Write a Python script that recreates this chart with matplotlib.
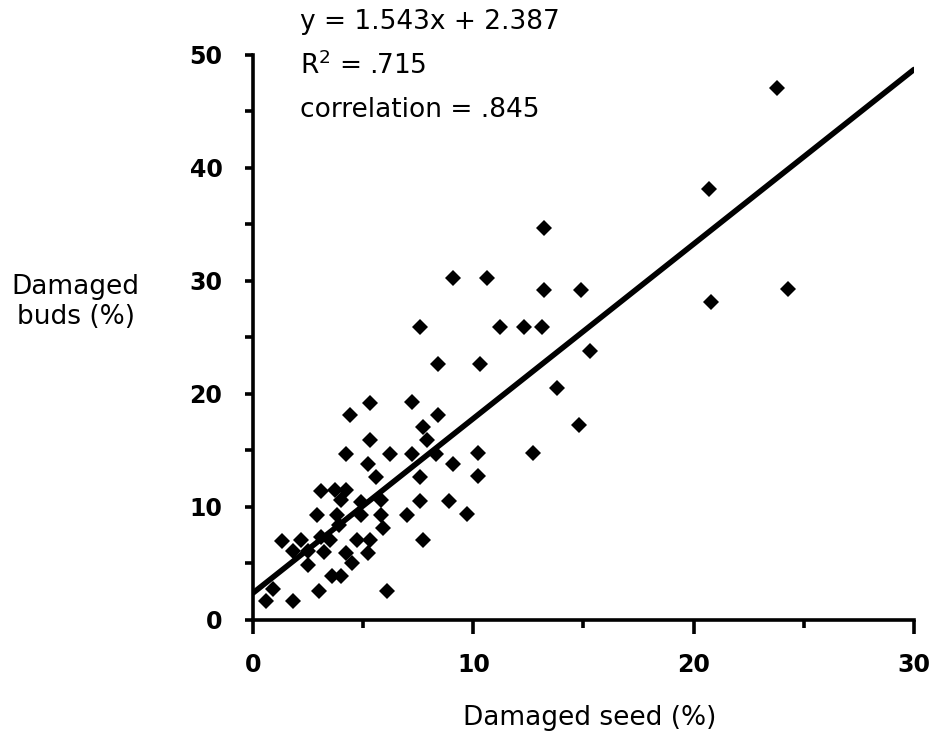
import numpy as np
import matplotlib
matplotlib.use("Agg")
import matplotlib.pyplot as plt

# damaged seed (%) vs damaged buds (%)
seed = [23.8, 20.7, 20.8, 24.3, 13.2, 13.2, 14.9, 9.1, 10.6, 7.6,
        11.2, 12.3, 13.1, 8.4, 10.3, 15.3, 13.8, 14.8, 12.7, 7.2,
        5.3, 4.4, 8.4, 7.7, 5.3, 7.9, 4.2, 6.2, 7.2, 8.3,
        10.2, 5.2, 9.1, 5.6, 7.6, 10.2, 3.1, 3.7, 4.2, 4.0,
        4.9, 5.8, 7.6, 8.9, 2.9, 3.8, 4.9, 5.8, 7.0, 9.7,
        5.9, 1.3, 2.2, 3.1, 3.5, 4.7, 5.3, 7.7, 1.8, 2.5,
        3.2, 4.2, 5.2, 2.5, 4.5, 3.6, 4.0, 0.9, 3.0, 6.1,
        0.6, 1.8, 3.9]
buds = [47.0, 38.1, 28.1, 29.3, 34.7, 29.2, 29.2, 30.2, 30.2, 25.9,
        25.9, 25.9, 25.9, 22.6, 22.6, 23.8, 20.5, 17.2, 14.8, 19.3,
        19.2, 18.1, 18.1, 17.1, 15.9, 15.9, 14.7, 14.7, 14.7, 14.7,
        14.8, 13.8, 13.8, 12.6, 12.6, 12.7, 11.4, 11.5, 11.5, 10.6,
        10.4, 10.6, 10.5, 10.5, 9.3, 9.3, 9.3, 9.3, 9.3, 9.4,
        8.1, 7.0, 7.1, 7.3, 7.1, 7.1, 7.1, 7.1, 6.1, 6.1,
        6.0, 5.9, 5.9, 4.9, 5.0, 3.9, 3.9, 2.7, 2.6, 2.6,
        1.7, 1.7, 8.4]

slope = 1.543
intercept = 2.387
fit_text = ["y = 1.543x + 2.387", "R$^2$ = .715", "correlation = .845"]

x_ticks = [0, 10, 20, 30]
y_ticks = [0, 10, 20, 30, 40, 50]

fig = plt.figure(figsize=(9.35, 7.41), dpi=100)
ax = fig.add_axes([0.2706, 0.1633, 0.7069, 0.7631])

ax.plot(seed, buds, linestyle="none", marker="D", markersize=8,
        color="black", markeredgewidth=0)

fx = np.array([0, 30])
ax.plot(fx, slope * fx + intercept, color="black", linewidth=4,
        solid_capstyle="round")

ax.set_xlim(0, 30)
ax.set_ylim(0, 50)
ax.spines["top"].set_visible(False)
ax.spines["right"].set_visible(False)
for s in ["left", "bottom"]:
    ax.spines[s].set_linewidth(2.6)

ax.set_xticks(x_ticks)
ax.set_xticks([5, 15, 25], minor=True)
ax.set_yticks(y_ticks)
ax.set_yticks([5, 15, 25, 35, 45], minor=True)
ax.tick_params(axis="x", which="major", length=10, width=2.6, pad=14)
ax.tick_params(axis="x", which="minor", length=6, width=2.6)
ax.tick_params(axis="y", which="both", length=6, width=2.6, pad=16)
for lab in ax.get_xticklabels() + ax.get_yticklabels():
    lab.set_fontsize(17)
    lab.set_fontweight("bold")

fig.text(0.631, 0.031, "Damaged seed (%)", ha="center", va="center", fontsize=19)
fig.text(0.081, 0.593, "Damaged\nbuds (%)", ha="center", va="center",
         fontsize=19, linespacing=1.2)

for i, t in enumerate(fit_text):
    fig.text(0.321, 0.970 - i * 0.059, t, ha="left", va="center", fontsize=19)

fig.savefig("out.png", dpi=100)
